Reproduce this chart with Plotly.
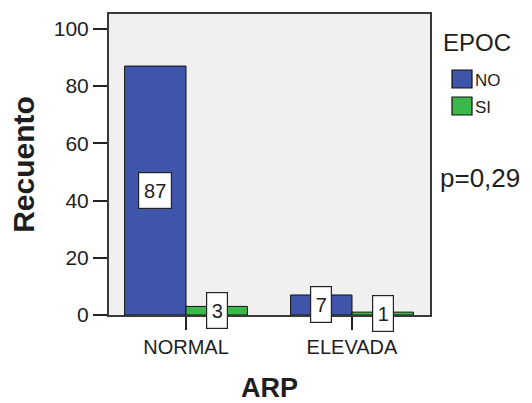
import plotly.graph_objects as go

# Counts of EPOC by ARP category
categories = ["NORMAL", "ELEVADA"]
series_names = ["NO", "SI"]
counts_no = [87, 7]
counts_si = [3, 1]
legend_title = "EPOC"
p_text = "p=0,29"

colors = {"NO": "#3F55A9", "SI": "#3BB84A"}
font_family = "Liberation Sans, Arial, sans-serif"
text_color = "#1e1e1e"

W, H = 532, 403
L, R, T, B = 109, 102, 14, 88
pw, ph = W - L - R, H - T - B


def px_to_paper(x, y):
    """Convert page pixel coordinates into paper coordinates."""
    return (x - L) / pw, (H - B - y) / ph


fig = go.Figure()
for name, vals in zip(series_names, [counts_no, counts_si]):
    fig.add_trace(go.Bar(
        x=categories, y=vals, name=name,
        marker=dict(color=colors[name], line=dict(color="#111111", width=1)),
        showlegend=False,
    ))

# value labels in white boxes at half height of each bar
group_width = 0.74
bar_w = group_width / len(series_names)
for si, vals in enumerate([counts_no, counts_si]):
    offset = -group_width / 2 + bar_w * (si + 0.5)
    for ci, v in enumerate(vals):
        txt = str(v)
        fig.add_annotation(
            x=ci + offset, y=v / 2, xref="x", yref="y",
            text=txt, showarrow=False,
            font=dict(family=font_family, size=20, color=text_color),
            bgcolor="white", bordercolor="#222222", borderwidth=1.2,
            width=6 + 12 * len(txt), height=33, borderpad=1,
        )

# legend: title, coloured squares and series names
ex, ey = px_to_paper(441, 42)
fig.add_annotation(x=ex, y=ey, xref="paper", yref="paper", text=legend_title,
                   showarrow=False, xanchor="left", yanchor="middle",
                   font=dict(family=font_family, size=24, color=text_color))
leg_x0 = 452
leg_y = [79, 106]
for name, yy in zip(series_names, leg_y):
    x0, y0 = px_to_paper(leg_x0, yy - 9)
    x1, y1 = px_to_paper(leg_x0 + 20, yy + 9)
    fig.add_shape(type="rect", xref="paper", yref="paper",
                  x0=x0, x1=x1, y0=y1, y1=y0,
                  fillcolor=colors[name], line=dict(color="#111111", width=1.2))
    tx, ty = px_to_paper(leg_x0 + 21, yy + 1)
    fig.add_annotation(x=tx, y=ty, xref="paper", yref="paper", text=name,
                       showarrow=False, xanchor="left", yanchor="middle",
                       font=dict(family=font_family, size=17, color=text_color))

px_, py_ = px_to_paper(438, 178)
fig.add_annotation(x=px_, y=py_, xref="paper", yref="paper", text=p_text,
                   showarrow=False, xanchor="left", yanchor="middle",
                   font=dict(family=font_family, size=26, color=text_color))

fig.update_layout(
    width=W, height=H,
    margin=dict(l=L, r=R, t=T, b=B, pad=0, autoexpand=False),
    paper_bgcolor="white", plot_bgcolor="#F0F0F0",
    barmode="group", bargap=1 - group_width, bargroupgap=0,
    font=dict(family=font_family, color=text_color),
)
fig.update_xaxes(
    automargin=False,
    range=[-0.464, 1.47], showline=True, mirror=True, linecolor="#3a3a3a",
    linewidth=2, ticks="outside", ticklen=13, tickwidth=1.5, tickcolor="#222",
    tickfont=dict(size=20, color=text_color), showgrid=False,
    title=dict(text="<b>ARP</b>", font=dict(size=27, color=text_color), standoff=25),
)
fig.update_yaxes(
    automargin=False,
    range=[0, 105.2], showline=True, mirror=True, linecolor="#3a3a3a",
    linewidth=2, ticks="outside", ticklen=14, tickwidth=1.5, tickcolor="#222",
    tickvals=[0, 20, 40, 60, 80, 100], tickfont=dict(size=21, color=text_color),
    showgrid=False, zeroline=False,
    title=dict(text="<b>Recuento</b>", font=dict(size=30, color=text_color), standoff=10),
)

fig.write_html("out.html")
